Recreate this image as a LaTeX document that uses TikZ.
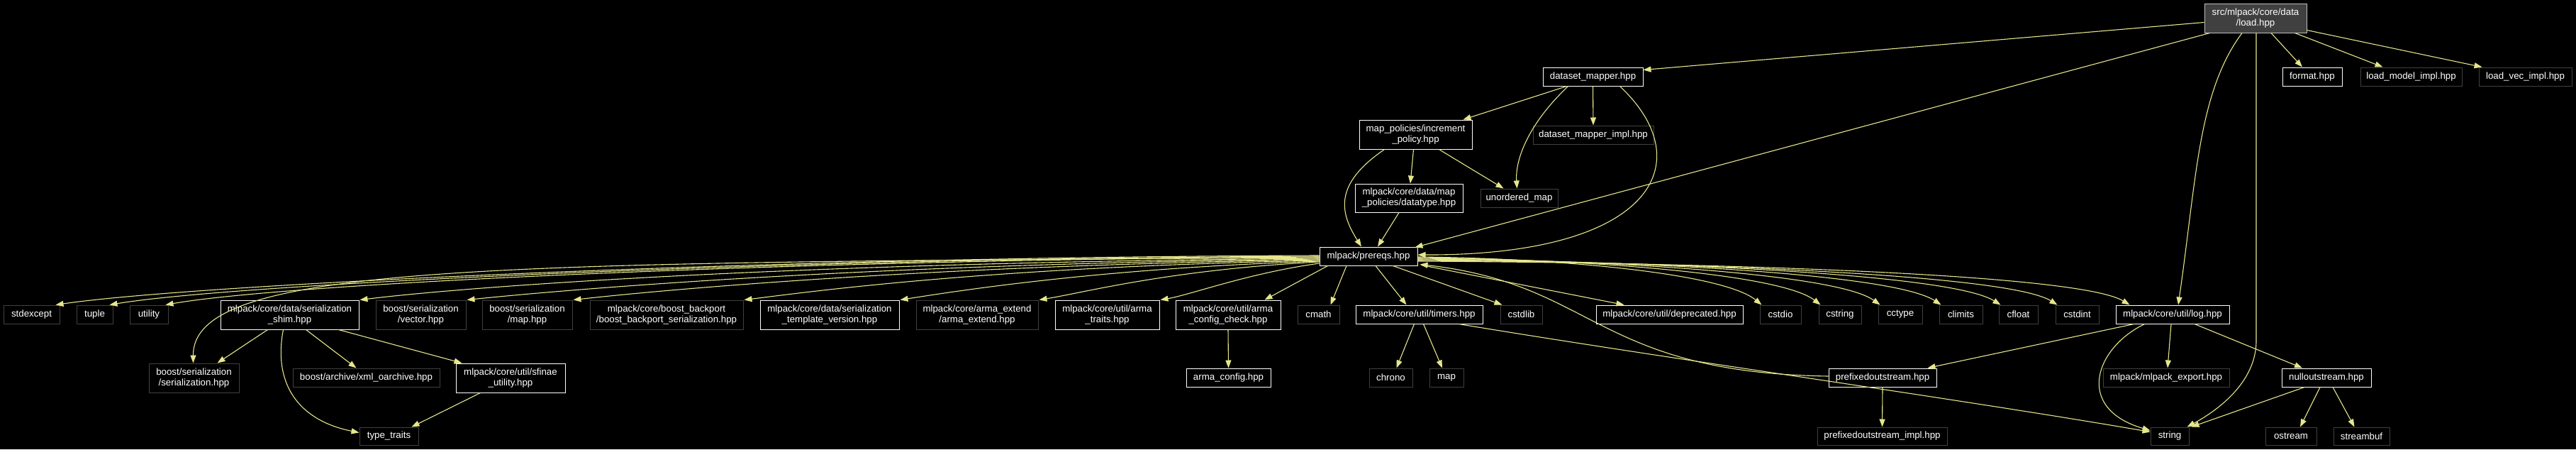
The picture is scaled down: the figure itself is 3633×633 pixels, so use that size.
\documentclass[tikz,border=0pt]{standalone}
\usepackage{fontspec}
\setmainfont{Liberation Sans}
\usetikzlibrary{arrows.meta,calc}
\definecolor{edgecol}{RGB}{230,230,140}
\definecolor{extborder}{RGB}{64,64,64}
\definecolor{rootfill}{RGB}{64,64,64}
\definecolor{rootborder}{RGB}{191,191,191}
\newcommand\gnode[7]{\node[#2, minimum width={(#5-#3)*1pt}, minimum height={(#6-#4)*1pt}] (#1) at ({(#3+#5)/2},{(#4+#6)/2}) {#7};}
\tikzset{
  gbox/.style={rectangle, fill=black, text=white, inner sep=0pt, align=center,
    font=\fontsize{13.3}{15}\selectfont, line width=1pt},
  docnode/.style={gbox, draw=white},
  extnode/.style={gbox, draw=extborder},
  rootnode/.style={gbox, fill=rootfill, draw=rootborder},
  incl/.style={draw=edgecol, line width=1.1pt, -{Triangle[length=11pt,width=8pt]}}
}
\begin{document}
\begin{tikzpicture}[x=1pt,y=-1pt]
\useasboundingbox (0,0) rectangle (3633,633);
\fill[black] (0,0) rectangle (3633,633);
% top part
\gnode{root}{rootnode}{3109}{5}{3253}{46}{src/mlpack/core/data\\/load.hpp}
\gnode{dm}{docnode}{2176}{95}{2317}{121}{dataset\_mapper.hpp}
\gnode{fmt}{docnode}{3219}{95}{3303}{121}{format.hpp}
\gnode{lmi}{extnode}{3329}{95}{3472}{121}{load\_model\_impl.hpp}
\gnode{lvi}{extnode}{3496}{95}{3627}{121}{load\_vec\_impl.hpp}
\gnode{inc}{docnode}{1917}{169}{2076}{210}{map\_policies/increment\\\_policy.hpp}
\gnode{dmi}{extnode}{2162}{177}{2332}{203}{dataset\_mapper\_impl.hpp}
\gnode{dt}{docnode}{1911}{259}{2063}{299}{mlpack/core/data/map\\\_policies/datatype.hpp}
\gnode{um}{extnode}{2088}{266}{2197}{292}{unordered\_map}
\gnode{pre}{docnode}{1861}{348}{1999}{374}{mlpack/prereqs.hpp}
% row 1
\gnode{stdexcept}{extnode}{5}{430}{84}{456}{stdexcept}
\gnode{tuple}{extnode}{108}{430}{159}{456}{tuple}
\gnode{utility}{extnode}{183}{430}{237}{456}{utility}
\gnode{shim}{docnode}{311}{423}{506}{464}{mlpack/core/data/serialization\\\_shim.hpp}
\gnode{vec}{extnode}{530}{423}{657}{464}{boost/serialization\\/vector.hpp}
\gnode{bmap}{extnode}{680}{423}{807}{464}{boost/serialization\\/map.hpp}
\gnode{bb}{extnode}{832}{423}{1048}{464}{mlpack/core/boost\_backport\\/boost\_backport\_serialization.hpp}
\gnode{stv}{docnode}{1072}{423}{1268}{464}{mlpack/core/data/serialization\\\_template\_version.hpp}
\gnode{ae}{extnode}{1292}{423}{1464}{464}{mlpack/core/arma\_extend\\/arma\_extend.hpp}
\gnode{at}{docnode}{1488}{423}{1635}{464}{mlpack/core/util/arma\\\_traits.hpp}
\gnode{acc}{docnode}{1658}{423}{1806}{464}{mlpack/core/util/arma\\\_config\_check.hpp}
\gnode{cmath}{extnode}{1830}{430}{1889}{456}{cmath}
\gnode{timers}{docnode}{1912}{430}{2091}{456}{mlpack/core/util/timers.hpp}
\gnode{cstdlib}{extnode}{2116}{430}{2175}{456}{cstdlib}
\gnode{dep}{docnode}{2251}{430}{2458}{456}{mlpack/core/util/deprecated.hpp}
\gnode{cstdio}{extnode}{2482}{430}{2540}{456}{cstdio}
\gnode{cstring}{extnode}{2565}{430}{2625}{456}{cstring}
\gnode{cctype}{extnode}{2649}{430}{2711}{456}{cctype}
\gnode{climits}{extnode}{2735}{430}{2796}{456}{climits}
\gnode{cfloat}{extnode}{2819}{430}{2874}{456}{cfloat}
\gnode{cstdint}{extnode}{2899}{430}{2960}{456}{cstdint}
\gnode{log}{docnode}{2984}{430}{3144}{456}{mlpack/core/util/log.hpp}
% row 2
\gnode{ser}{extnode}{210}{512}{337}{553}{boost/serialization\\/serialization.hpp}
\gnode{xml}{extnode}{413}{519}{620}{545}{boost/archive/xml\_oarchive.hpp}
\gnode{sf}{docnode}{643}{512}{797}{553}{mlpack/core/util/sfinae\\\_utility.hpp}
\gnode{ac}{docnode}{1673}{519}{1792}{545}{arma\_config.hpp}
\gnode{chrono}{extnode}{1931}{519}{1992}{545}{chrono}
\gnode{map}{extnode}{2016}{519}{2064}{545}{map}
\gnode{pos}{docnode}{2579}{519}{2731}{545}{prefixedoutstream.hpp}
\gnode{exp}{extnode}{2966}{519}{3144}{545}{mlpack/mlpack\_export.hpp}
\gnode{nul}{docnode}{3218}{519}{3344}{545}{nulloutstream.hpp}
% row 3
\gnode{tt}{extnode}{507}{602}{590}{627}{type\_traits}
\gnode{posi}{extnode}{2563}{602}{2746}{627}{prefixedoutstream\_impl.hpp}
\gnode{str}{extnode}{3033}{602}{3087}{627}{string}
\gnode{ost}{extnode}{3195}{602}{3267}{627}{ostream}
\gnode{sb}{extnode}{3291}{602}{3370}{627}{streambuf}
% edges from root
\draw[incl] ($(root.west)+(0,6)$) -- ($(dm.north east)+(0,4)$);
\draw[incl] ($(root.south west)+(8,0)$) -- ($(pre.north east)+(-4,1)$);
\draw[incl] ($(root.south)+(-19,0)$) .. controls (3100,130) and (3098,250) .. ($(log.north)+(8,0)$);
\draw[incl] ($(root.south)+(1,0)$) -- (3182,480) .. controls (3182,545) and (3115,585) .. ($(str.north east)+(-3,0)$);
\draw[incl] ($(root.south)+(22,0)$) -- ($(fmt.north)+(-14,0)$);
\draw[incl] ($(root.south east)+(-17,0)$) -- ($(lmi.north)+(-40,0)$);
\draw[incl] ($(root.east)+(0,17)$) -- ($(lvi.north west)+(5,0)$);
% dataset_mapper
\draw[incl] ($(dm.south)+(-37,0)$) -- ($(inc.north east)+(-13,0)$);
\draw[incl] (dm.south) -- (dmi.north);
\draw[incl] ($(dm.south)+(-35,0)$) .. controls (2150,180) and (2137,230) .. ($(um.north)+(-3,0)$);
\draw[incl] ($(dm.south)+(38,0)$) .. controls (2400,230) and (2330,360) .. ($(pre.east)+(0,-2)$);
% increment policy
\draw[incl] ($(inc.south)+(-3,0)$) -- ($(dt.north)+(2,0)$);
\draw[incl] ($(inc.south)+(33,0)$) -- ($(um.north west)+(33,0)$);
\draw[incl] ($(inc.south)+(-44,0)$) .. controls (1880,260) and (1890,300) .. ($(pre.north)+(-10,0)$);
\draw[incl] ($(dt.south)+(-14,0)$) -- ($(pre.north)+(13,0)$);
% prereqs to the right
\draw[incl] ($(pre.south)+(-31,0)$) -- ($(cmath.north)+(17,0)$);
\draw[incl] ($(pre.south)+(10,0)$) -- ($(timers.north)+(-18,0)$);
\draw[incl] ($(pre.south east)+(-35,0)$) -- ($(cstdlib.north west)+(3,0)$);
\draw[incl] ($(pre.south east)+(5,-1)$) -- ($(dep.north west)+(40,0)$);
\draw[incl] ($(pre.east)+(0,1)$) .. controls (2200,364) and (2430,385) .. ($(cstdio.north west)+(3,0)$);
\draw[incl] ($(pre.east)+(0,2)$) .. controls (2230,365) and (2510,385) .. ($(cstring.north west)+(3,0)$);
\draw[incl] ($(pre.east)+(0,3)$) .. controls (2260,366) and (2590,385) .. ($(cctype.north west)+(3,0)$);
\draw[incl] ($(pre.east)+(0,4)$) .. controls (2300,367) and (2670,385) .. ($(climits.north west)+(3,0)$);
\draw[incl] ($(pre.east)+(0,5)$) .. controls (2330,368) and (2750,385) .. ($(cfloat.north west)+(3,0)$);
\draw[incl] ($(pre.east)+(0,6)$) .. controls (2350,369) and (2830,385) .. ($(cstdint.north west)+(3,0)$);
\draw[incl] ($(pre.east)+(0,7)$) .. controls (2400,370) and (2930,385) .. ($(log.north west)+(20,0)$);
% prereqs to the left
\draw[incl] ($(pre.west)+(0,-1)$) .. controls (1100,362) and (280,400) .. ($(stdexcept.north east)+(-6,0)$);
\draw[incl] ($(pre.west)+(0,0)$) .. controls (1100,364) and (330,400) .. ($(tuple.north east)+(-5,0)$);
\draw[incl] ($(pre.west)+(0,1)$) .. controls (1100,366) and (400,400) .. ($(utility.north east)+(-4,0)$);
\draw[incl] ($(pre.west)+(0,2)$) .. controls (700,370) and (272,370) .. ($(ser.north)+(-1,0)$);
\draw[incl] ($(pre.west)+(0,3)$) .. controls (1100,370) and (650,405) .. ($(shim.north east)+(1,0)$);
\draw[incl] ($(pre.west)+(0,4)$) .. controls (1200,372) and (780,410) .. ($(vec.north east)+(1,0)$);
\draw[incl] ($(pre.west)+(0,5)$) .. controls (1300,374) and (920,410) .. ($(bmap.north east)+(1,0)$);
\draw[incl] ($(pre.west)+(0,6)$) .. controls (1400,376) and (1150,410) .. ($(bb.north east)+(1,0)$);
\draw[incl] ($(pre.west)+(0,7)$) .. controls (1550,378) and (1350,410) .. ($(stv.north east)+(1,0)$);
\draw[incl] ($(pre.west)+(0,8)$) .. controls (1650,380) and (1530,412) .. ($(ae.north east)+(1,0)$);
\draw[incl] ($(pre.west)+(0,10)$) .. controls (1760,385) and (1680,415) .. ($(at.north east)+(1,0)$);
\draw[incl] ($(pre.south west)+(12,0)$) -- ($(acc.north east)+(-23,0)$);
% prefixedoutstream back to prereqs
\draw[incl] ($(pos.west)+(0,-2)$) .. controls (2250,525) and (2250,400) .. ($(pre.south east)+(3,-2)$);
% timers
\draw[incl] ($(timers.south)+(-7,0)$) -- ($(chrono.north)+(8,0)$);
\draw[incl] ($(timers.south)+(6,0)$) -- ($(map.north)+(-6,0)$);
\draw[incl] ($(timers.south east)+(-34,0)$) .. controls (2350,505) and (2750,560) .. ($(str.west)+(0,-6)$);
% log
\draw[incl] ($(log.south west)+(26,0)$) -- ($(pos.north east)+(-13,0)$);
\draw[incl] ($(log.south west)+(41,0)$) .. controls (2955,490) and (2925,575) .. ($(str.west)+(0,-8)$);
\draw[incl] ($(log.south)+(-2,0)$) -- ($(exp.north)+(2,0)$);
\draw[incl] ($(log.south)+(31,0)$) -- ($(nul.north)+(-34,0)$);
% nulloutstream
\draw[incl] ($(nul.south)+(-31,0)$) -- ($(str.north east)+(3,0)$);
\draw[incl] ($(nul.south)+(-9,0)$) -- ($(ost.north)+(13,0)$);
\draw[incl] ($(nul.south)+(9,0)$) -- ($(sb.north)+(-10,0)$);
% others
\draw[incl] (pos.south) -- (posi.north);
\draw[incl] (acc.south) -- (ac.north);
% serialization shim
\draw[incl] ($(shim.south west)+(67,0)$) -- ($(ser.north east)+(-31,0)$);
\draw[incl] ($(shim.south west)+(89,0)$) .. controls (385,540) and (420,592) .. ($(tt.west)+(0,-5)$);
\draw[incl] ($(shim.south west)+(121,0)$) -- ($(xml.north)+(-14,0)$);
\draw[incl] ($(shim.south east)+(-29,0)$) -- ($(sf.north west)+(9,0)$);
\draw[incl] ($(sf.south west)+(35,0)$) -- ($(tt.north east)+(-10,0)$);
\end{tikzpicture}
\end{document}
